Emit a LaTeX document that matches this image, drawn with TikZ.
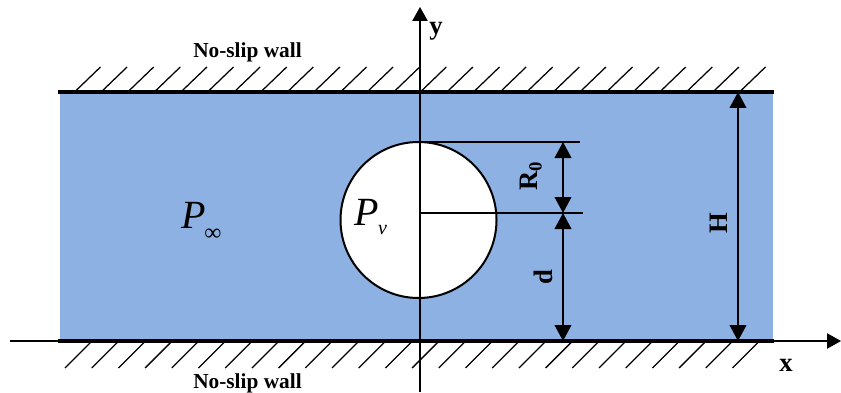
\documentclass[tikz,border=0pt]{standalone}
\usepackage{fontspec}
\setmainfont{Liberation Serif}
\usetikzlibrary{arrows.meta}
\definecolor{fluid}{RGB}{142,177,227}
\begin{document}
\begin{tikzpicture}[x=0.75pt,y=-0.75pt,
  wall/.style={line width=2.5pt,line cap=rect},
  hatch/.style={line width=0.95pt},
  axis/.style={line width=1pt,-{Triangle[length=10.5pt,width=11.5pt]}},
  dim/.style={line width=1.4pt,{Triangle[length=12pt,width=12.5pt]}-{Triangle[length=12pt,width=12.5pt]}},
  ext/.style={line width=1.4pt},
  lbl/.style={font=\fontsize{16}{16}\selectfont\bfseries,inner sep=0pt},
  big/.style={font=\fontsize{20}{20}\selectfont\bfseries,inner sep=0pt},
  pres/.style={font=\fontsize{30}{30}\selectfont\itshape,inner sep=0pt,anchor=base west}]
\useasboundingbox (0,0) rectangle (841,392);
% fluid
\fill[fluid] (60,92) rectangle (773,341);
% bubble
\node[circle,draw,fill=white,line width=1.5pt,minimum size=117pt,inner sep=0pt] (bub) at (418.5,220) {};
% hatches
\foreach \k in {0,...,25}{
  \draw[hatch] ({74.5+26.6*\k},92) -- ({100.5+26.6*\k},67);
  \draw[hatch] ({91+26.7*\k},342) -- ({65+26.7*\k},368);
}
% walls
\coordinate (wtl) at (60,92);
\coordinate (wtr) at (772,92);
\coordinate (wbl) at (60,341);
\coordinate (wbr) at (772,341);
% axes
\coordinate (xl) at (10,341);
\coordinate (xr) at (841,341);
\coordinate (yb) at (420,392);
\coordinate (yt) at (420,7);
\draw[axis] (xl) -- (xr);
\draw[axis] (yb) -- (yt);
\draw[wall] (wtl) -- (wtr);
\draw[wall] (wbl) -- (wbr);
% dimension lines
\coordinate (ctop) at (420,142);
\coordinate (ctopr) at (580,142);
\coordinate (cmid) at (420,213);
\coordinate (cmidr) at (583,213);
\draw[ext] (ctop) -- (ctopr);
\draw[ext] (cmid) -- (cmidr);
\coordinate (r0t) at (563,142);
\coordinate (r0b) at (563,213);
\coordinate (db) at (563,341);
\coordinate (ht) at (738,92);
\coordinate (hb) at (738,341);
\draw[dim] (r0t) -- (r0b);
\draw[dim] (r0b) -- (db);
\draw[dim] (ht) -- (hb);
% labels
\node[lbl,anchor=base] (wt) at (247.5,58) {No-slip wall};
\node[lbl,anchor=base] (wb) at (247.5,388) {No-slip wall};
\node[big,anchor=base] (ylab) at (436,35) {y};
\node[big,anchor=base] (xlab) at (786,371) {x};
\node[big,rotate=90] (hlab) at (719,223) {H};
\node[big,rotate=90] (dlab) at (543,277) {d};
\node[big,rotate=90] (rlab) at (531,176) {R\textsubscript{0}};
\node[pres] (pinf) at (181,228) {P\kern-1pt\raisebox{-9pt}{\fontsize{18}{18}\selectfont\upshape ∞}};
\node[pres] (pv) at (354,225) {P\kern-0.5pt\raisebox{-6.75pt}{\fontsize{15}{15}\selectfont v}};
\end{tikzpicture}
\end{document}
